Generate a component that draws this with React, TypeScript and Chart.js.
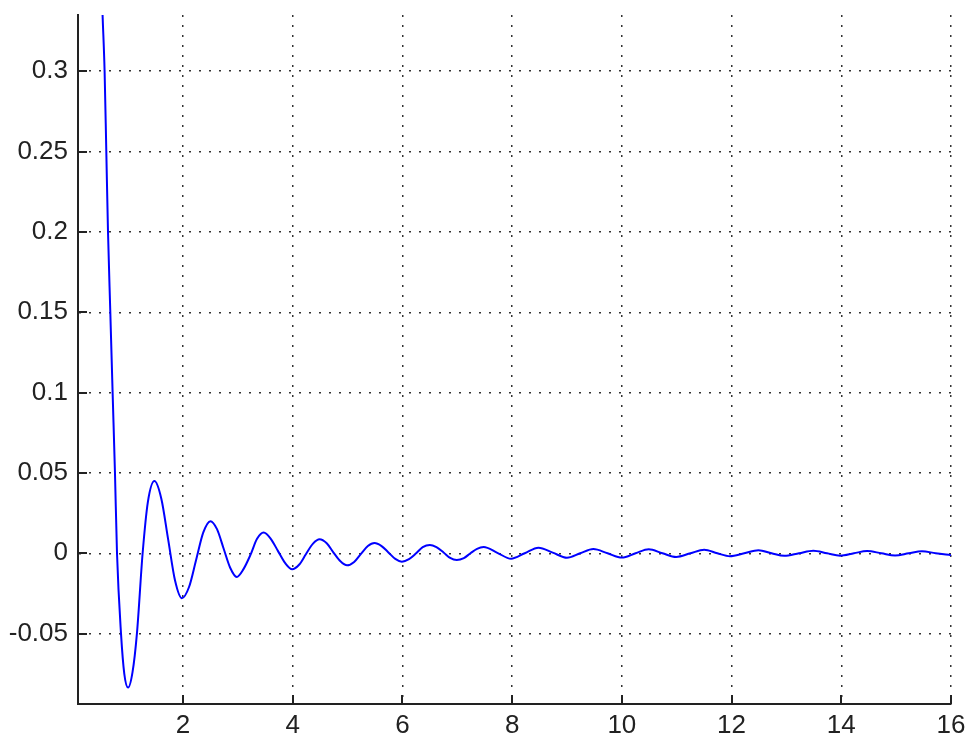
import React, { useEffect, useRef } from "react";
import { Chart, registerables } from "chart.js";

Chart.register(...registerables);

const X_VALUES = [
  0.5, 0.534, 0.571, 0.602, 0.633, 0.675, 0.717, 0.76, 0.797, 0.87, 0.93, 1.0, 1.08, 1.16, 1.264,
  1.36, 1.48, 1.605, 1.73, 1.855, 1.98, 2.11, 2.24, 2.37, 2.5, 2.62, 2.74, 2.86, 2.98,
  3.1, 3.23, 3.35, 3.47, 3.6, 3.73, 3.86, 3.99, 4.12, 4.24, 4.37, 4.49, 4.62, 4.74, 4.87, 4.99,
  5.12, 5.24, 5.37, 5.49, 5.62, 5.74, 5.87, 5.99, 6.12, 6.25, 6.37, 6.5, 6.62, 6.75, 6.87, 6.99,
  7.12, 7.24, 7.36, 7.48, 7.73, 7.98, 8.23, 8.48, 8.74, 9.0, 9.24, 9.48, 9.74, 10.0, 10.25, 10.49,
  10.74, 10.99, 11.25, 11.5, 11.74, 11.97, 12.23, 12.49, 12.73, 12.96, 13.23, 13.49, 13.74,
  13.98, 14.23, 14.47, 14.73, 14.98, 15.23, 15.47, 15.72, 16.0,
];

const Y_VALUES = [
  0.37, 0.335, 0.3, 0.25, 0.2, 0.15, 0.1, 0.05, 0.0, -0.05, -0.075, -0.0836, -0.074, -0.05, 0.0,
  0.032, 0.045, 0.034, 0.0085, -0.017, -0.028, -0.021, -0.004, 0.013, 0.02, 0.015, 0.003, -0.009, -0.0147,
  -0.01, -0.001, 0.009, 0.0129, 0.009, 0.0015, -0.006, -0.01, -0.007, -0.0006, 0.006, 0.0087, 0.0062, 0.0006, -0.005, -0.0075,
  -0.0054, -0.0005, 0.0045, 0.0064, 0.0045, 0.0007, -0.0035, -0.0052, -0.0036, 0.0, 0.0038, 0.0052, 0.0038, 0.0005, -0.0029, -0.0042,
  -0.003, 0.0, 0.0028, 0.0039, 0.0003, -0.0034, 0.0, 0.0035, 0.0004, -0.0028, 0.0, 0.0026, 0.0, -0.0027, 0.0, 0.0025,
  0.0, -0.0023, 0.0, 0.0022, 0.0, -0.0018, 0.0, 0.0019, 0.0, -0.0016, 0.0, 0.0016, 0.0,
  -0.0015, 0.0, 0.0014, 0.0, -0.0014, 0.0, 0.0013, 0.0, -0.0012,
];

const X_TICKS = [2, 4, 6, 8, 10, 12, 14, 16];
const Y_TICKS = [-0.05, 0, 0.05, 0.1, 0.15, 0.2, 0.25, 0.3];
const X_MIN = 0.086;
const X_MAX = 16;
const Y_MIN = -0.0938;
const Y_MAX = 0.335;

const FONT = { family: "'Liberation Sans', Arial, sans-serif", size: 26 };

const inwardTicks = {
  id: "inwardTicks",
  afterDraw(chart: any) {
    const { ctx, chartArea, scales } = chart;
    ctx.save();
    ctx.strokeStyle = "#222";
    ctx.lineWidth = 2;
    ctx.setLineDash([]);
    scales.x.ticks.forEach((t: any) => {
      const px = Math.round(scales.x.getPixelForValue(t.value));
      ctx.beginPath();
      ctx.moveTo(px, chartArea.bottom);
      ctx.lineTo(px, chartArea.bottom - 9);
      ctx.stroke();
    });
    scales.y.ticks.forEach((t: any) => {
      const py = Math.round(scales.y.getPixelForValue(t.value));
      ctx.beginPath();
      ctx.moveTo(chartArea.left, py);
      ctx.lineTo(chartArea.left + 9, py);
      ctx.stroke();
    });
    ctx.restore();
  },
};

export default function App() {
  const canvasRef = useRef<HTMLCanvasElement | null>(null);

  useEffect(() => {
    if (!canvasRef.current) return;
    const data = X_VALUES.map((x, i) => ({ x, y: Y_VALUES[i] }));
    const chart = new Chart(canvasRef.current, {
      type: "line",
      data: {
        datasets: [
          {
            data,
            borderColor: "#0000ff",
            borderWidth: 2,
            pointRadius: 0,
            cubicInterpolationMode: "monotone",
            fill: false,
          },
        ],
      },
      options: {
        animation: false,
        responsive: true,
        maintainAspectRatio: false,
        devicePixelRatio: 1,
        layout: { padding: { left: 0, top: 15, right: 17, bottom: 0 } },
        plugins: { legend: { display: false }, tooltip: { enabled: false } },
        scales: {
          x: {
            type: "linear",
            min: X_MIN,
            max: X_MAX,
            afterBuildTicks: (scale: any) => {
              scale.ticks = X_TICKS.map((v) => ({ value: v }));
            },
            afterFit: (scale: any) => {
              scale.height = 33;
              scale.paddingLeft = 0;
              scale.paddingRight = 0;
            },
            ticks: {
              autoSkip: false,
              maxRotation: 0,
              padding: 6,
              color: "#222",
              font: FONT,
              callback: (v: any) => String(v),
            },
            grid: { color: "#333", lineWidth: 1.5, drawTicks: false },
            border: { display: true, color: "#222", width: 2, dash: [2, 8] },
          },
          y: {
            type: "linear",
            min: Y_MIN,
            max: Y_MAX,
            afterBuildTicks: (scale: any) => {
              scale.ticks = Y_TICKS.map((v) => ({ value: v }));
            },
            afterFit: (scale: any) => {
              scale.width = 78;
              scale.paddingTop = 0;
              scale.paddingBottom = 0;
            },
            ticks: {
              autoSkip: false,
              padding: 10,
              color: "#222",
              font: FONT,
              callback: (v: any) => String(v),
            },
            grid: { color: "#333", lineWidth: 1.5, drawTicks: false },
            border: { display: true, color: "#222", width: 2, dash: [2, 8] },
          },
        },
      },
      plugins: [inwardTicks],
    } as any);
    return () => chart.destroy();
  }, []);

  return (
    <div style={{ position: "absolute", left: 0, top: 0, width: 968, height: 737, background: "#fff" }}>
      <canvas ref={canvasRef} />
    </div>
  );
}
